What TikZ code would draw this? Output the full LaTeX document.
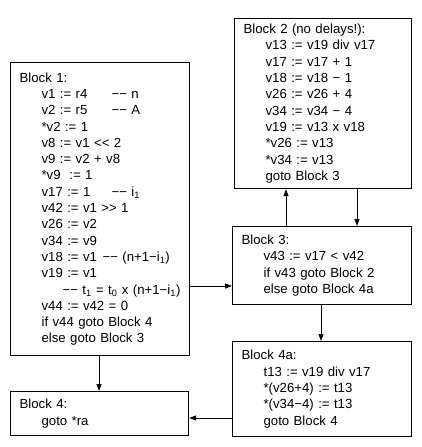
\documentclass[tikz,border=0pt]{standalone}
\usepackage{fontspec}
\setmainfont{Liberation Sans}
\usepackage{tikz}
\usetikzlibrary{arrows.meta}

\newcommand{\ind}{\hspace*{22pt}}
\newcommand{\cmt}[2]{\makebox[#1][l]{#2}}

\tikzset{
  block/.style={draw, line width=1.2pt, anchor=north west, align=left,
    inner xsep=9pt, inner ysep=0pt, font=\fontsize{13.2}{16.3}\selectfont},
  flow/.style={-{Triangle[length=7pt,width=5pt]}, line width=0.9pt}
}

\begin{document}
\begin{tikzpicture}[x=1pt,y=-1pt]
  \useasboundingbox (0,0) rectangle (422,447);

  \node[block, minimum width=179pt, minimum height=293pt, text width=161pt] (b1) at (10,62) {%
    Block 1:\\
    \ind\cmt{70pt}{v1 := r4}−− n\\
    \ind\cmt{70pt}{v2 := r5}−− A\\
    \ind *v2 := 1\\
    \ind v8 := v1 <{}< 2\\
    \ind v9 := v2 + v8\\
    \ind *v9 \ := 1\\
    \ind\cmt{70pt}{v17 := 1}−− i\textsubscript{1}\\
    \ind v42 := v1 >{}> 1\\
    \ind v26 := v2\\
    \ind v34 := v9\\
    \ind\cmt{61pt}{v18 := v1}−− (n+1−i\textsubscript{1})\\
    \ind v19 := v1\\
    \ind\hspace*{21pt}\mbox{−− t\textsubscript{1} = t\textsubscript{0} x (n+1−i\textsubscript{1})}\\
    \ind v44 := v42 = 0\\
    \ind if v44 goto Block 4\\
    \ind else goto Block 3};

  \node[block, minimum width=177pt, minimum height=170pt, text width=159pt] (b2) at (234,18) {%
    Block 2 (no delays!):\\
    \ind v13 := v19 div v17\\
    \ind v17 := v17 + 1\\
    \ind v18 := v18 − 1\\
    \ind v26 := v26 + 4\\
    \ind v34 := v34 − 4\\
    \ind v19 := v13 x v18\\
    \ind *v26 := v13\\
    \ind *v34 := v13\\
    \ind goto Block 3};

  \node[block, minimum width=179pt, minimum height=78pt, text width=161pt] (b3) at (232,226) {%
    Block 3:\\
    \ind v43 := v17 < v42\\
    \ind if v43 goto Block 2\\
    \ind else goto Block 4a};

  \node[block, minimum width=179pt, minimum height=95pt, text width=161pt] (b4a) at (232,341) {%
    Block 4a:\\
    \ind t13 := v19 div v17\\
    \ind *(v26+4) := t13\\
    \ind *(v34−4) := t13\\
    \ind goto Block 4};

  \node[block, minimum width=178pt, minimum height=44pt, text width=160pt] (b4) at (10,391) {%
    Block 4:\\
    \ind goto *ra};

  % connectors
  \coordinate (up) at (286,0);
  \coordinate (down) at (357,0);
  \coordinate (mid) at (321,0);
  \coordinate (left) at (99,0);
  \coordinate (row3) at (0,286);
  \coordinate (row4) at (0,418);
  \draw[flow] (b1.east |- row3) -- (b3.west |- row3);
  \draw[flow] (b3.north -| up) -- (b2.south -| up);
  \draw[flow] (b2.south -| down) -- (b3.north -| down);
  \draw[flow] (b3.south -| mid) -- (b4a.north -| mid);
  \draw[flow] (b1.south -| left) -- (b4.north -| left);
  \draw[flow] (b4a.west |- row4) -- (b4.east |- row4);
\end{tikzpicture}
\end{document}
